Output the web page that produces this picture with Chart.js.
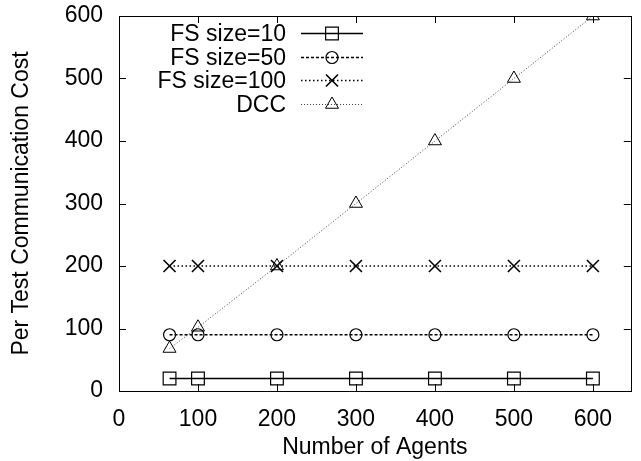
<!DOCTYPE html>
<html>
<head>
<meta charset="utf-8">
<script src="https://cdn.jsdelivr.net/npm/chart.js@4.4.1/dist/chart.umd.min.js"></script>
<style>
  html, body { margin: 0; padding: 0; background: #fff; }
  #wrap { width: 641px; height: 461px; }
</style>
</head>
<body>
<div id="wrap"><canvas id="costChart" width="641" height="461"></canvas></div>
<script>
// данные
const agents = [64, 100, 200, 300, 400, 500, 600];
const fs10 = [20, 20, 20, 20, 20, 20, 20];
const fs50 = [90, 90, 90, 90, 90, 90, 90];
const fs100 = [200, 200, 200, 200, 200, 200, 200];
const dcc = [68, 102, 200, 300, 400, 500, 600];
const xTicks = [0, 100, 200, 300, 400, 500, 600];
const yTicks = [0, 100, 200, 300, 400, 500, 600];

const FONT = "'Liberation Sans', Arial, Helvetica, sans-serif";
const FONT_SIZE = 23;

function toPoints(ys) {
    return agents.map((x, i) => ({ x: x, y: ys[i] }));
}

// рамка и тики внутрь, как в gnuplot
const framePlugin = {
    id: 'frame',
    afterDatasetsDraw(chart) {
        const { ctx, chartArea: a, scales } = chart;
        const len = 7;
        ctx.save();
        ctx.strokeStyle = '#000';
        ctx.lineWidth = 1;
        ctx.beginPath();
        xTicks.forEach(v => {
            const px = Math.round(scales.x.getPixelForValue(v)) + 0.5;
            ctx.moveTo(px, a.bottom); ctx.lineTo(px, a.bottom - len);
            ctx.moveTo(px, a.top); ctx.lineTo(px, a.top + len);
        });
        yTicks.forEach(v => {
            const py = Math.round(scales.y.getPixelForValue(v)) + 0.5;
            ctx.moveTo(a.left, py); ctx.lineTo(a.left + len, py);
            ctx.moveTo(a.right, py); ctx.lineTo(a.right - len, py);
        });
        ctx.stroke();
        ctx.strokeRect(Math.round(a.left) + 0.5, Math.round(a.top) + 0.5,
            Math.round(a.right - a.left), Math.round(a.bottom - a.top));
        ctx.restore();
    }
};

// легенда: текст справа налево, затем отрезок линии с маркером
const legendPlugin = {
    id: 'gpLegend',
    afterDraw(chart) {
        const { ctx } = chart;
        const textRight = 286, x0 = 301, x1 = 363, top = 33, step = 23.7;
        ctx.save();
        ctx.font = FONT_SIZE + 'px ' + FONT;
        ctx.textAlign = 'right';
        ctx.textBaseline = 'middle';
        chart.data.datasets.forEach((ds, i) => {
            const y = Math.round(top + i * step) + 0.5;
            ctx.fillStyle = '#000';
            ctx.fillText(ds.label, textRight, y + 1);
            ctx.strokeStyle = ds.borderColor;
            ctx.lineWidth = ds.borderWidth;
            ctx.setLineDash(ds.borderDash || []);
            ctx.beginPath();
            ctx.moveTo(x0, y); ctx.lineTo(x1, y);
            ctx.stroke();
            ctx.setLineDash([]);
            ctx.strokeStyle = '#000';
            ctx.lineWidth = ds.pointBorderWidth;
            ctx.fillStyle = 'rgba(0,0,0,0)';
            Chart.helpers.drawPoint(ctx, {
                pointStyle: ds.pointStyle,
                radius: ds.pointRadius,
                borderWidth: ds.pointBorderWidth,
                rotation: 0
            }, (x0 + x1) / 2, y);
        });
        ctx.restore();
    }
};

function series(label, ys, dash, style, radius, ptWidth, color, width) {
    return {
        label: label,
        data: toPoints(ys),
        showLine: true,
        borderColor: color,
        borderWidth: width,
        borderDash: dash,
        pointStyle: style,
        pointRadius: radius,
        pointBorderColor: '#000',
        pointBorderWidth: ptWidth,
        pointBackgroundColor: 'rgba(0,0,0,0)',
        tension: 0
    };
}

const chart = new Chart(document.getElementById('costChart'), {
    type: 'scatter',
    data: {
        datasets: [
            series('FS size=10', fs10, [], 'rect', 9, 1.2, '#000', 1.3),
            series('FS size=50', fs50, [3, 2], 'circle', 6, 1.2, '#000', 1.3),
            series('FS size=100', fs100, [1.5, 2.5], 'crossRot', 8.5, 1.6, '#000', 1.5),
            series('DCC', dcc, [1, 2], 'triangle', 7.5, 1, '#444', 1)
        ]
    },
    options: {
        responsive: false,
        animation: false,
        layout: { padding: { top: 16, right: 7, left: 0, bottom: 0 } },
        plugins: { legend: { display: false }, tooltip: { enabled: false } },
        scales: {
            x: {
                type: 'linear',
                min: 0,
                max: 648,
                afterBuildTicks(scale) { scale.ticks = xTicks.map(v => ({ value: v })); },
                afterFit(scale) {
                    scale.height = 70;
                    scale.paddingLeft = 0;
                    scale.paddingRight = 0;
                },
                grid: { display: false, drawTicks: false },
                border: { display: false },
                ticks: { color: '#000', padding: 15, font: { family: FONT, size: FONT_SIZE } },
                title: {
                    display: true,
                    text: 'Number of Agents',
                    color: '#000',
                    padding: { top: 0, bottom: 0 },
                    font: { family: FONT, size: FONT_SIZE }
                }
            },
            y: {
                type: 'linear',
                min: 0,
                max: 600,
                afterBuildTicks(scale) { scale.ticks = yTicks.map(v => ({ value: v })); },
                afterFit(scale) {
                    scale.width = 119;
                    scale.paddingTop = 0;
                    scale.paddingBottom = 0;
                },
                grid: { display: false, drawTicks: false },
                border: { display: false },
                ticks: { color: '#000', padding: 16, font: { family: FONT, size: FONT_SIZE } },
                title: {
                    display: true,
                    text: 'Per Test Communication Cost',
                    color: '#000',
                    padding: { top: 8, bottom: 0 },
                    font: { family: FONT, size: FONT_SIZE }
                }
            }
        }
    },
    plugins: [framePlugin, legendPlugin]
});
</script>
</body>
</html>
